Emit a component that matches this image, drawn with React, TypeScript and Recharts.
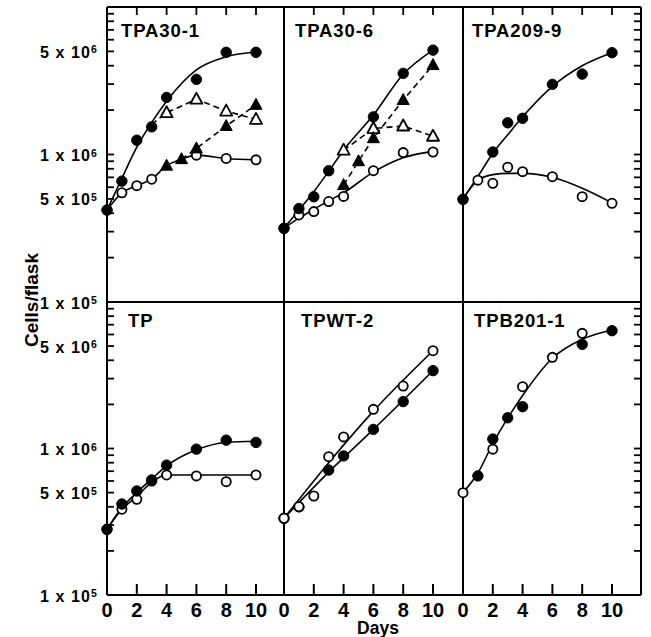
import React from "react";
import { LineChart, Line, XAxis, YAxis } from "recharts";

const FONT = '"Liberation Sans", Arial, Helvetica, sans-serif';

// ---- categories / ticks ----
const DAYS = [0, 1, 2, 3, 4, 5, 6, 8, 10];
const X_TICKS = [0, 2, 4, 6, 8, 10];
const Y_TICKS = [
  1e5, 2e5, 3e5, 4e5, 5e5, 6e5, 7e5, 8e5, 9e5,
  1e6, 2e6, 3e6, 4e6, 5e6, 6e6, 7e6, 8e6, 9e6, 1e7,
];
const Y_LABEL_VALUES = [5e6, 1e6, 5e5, 1e5];
const Y_LABEL_TEXT = ["5 x 10", "1 x 10", "5 x 10", "1 x 10"];
const Y_LABEL_EXP = ["6", "6", "5", "5"];
const Y_MIN = 1e5;
const Y_MAX = 1e7;

// ---- TPA30-1 ----
const A1_FC = [4.2e5, 6.6e5, 1.25e6, 1.54e6, 2.44e6, null, 3.23e6, 4.93e6, 4.93e6];
const A1_OC = [4.2e5, 5.5e5, 6.15e5, 6.8e5, null, null, 9.9e5, 9.4e5, 9.2e5];
const A1_FT = [null, null, null, null, 8.4e5, 9.3e5, 1.1e6, 1.56e6, 2.17e6];
const A1_OT = [null, null, null, null, 1.92e6, null, 2.37e6, 1.97e6, 1.73e6];
const A1_FC_FIT = [4.2e5, 6.9e5, 1.12e6, 1.65e6, 2.3e6, null, 3.75e6, 4.6e6, 4.95e6];
const A1_OC_FIT = [4.2e5, 5.5e5, 6.15e5, 6.8e5, 8.4e5, 9.3e5, 9.9e5, 9.4e5, 9.2e5];
const A1_FT_DASH = [null, null, null, null, null, 9.3e5, 1.1e6, 1.56e6, 2.17e6];
const A1_OT_DASH = [null, null, null, 1.6e6, 1.92e6, null, 2.37e6, 1.97e6, 1.73e6];

// ---- TPA30-6 ----
const A6_FC = [3.16e5, 4.3e5, 5.17e5, 7.76e5, null, null, 1.8e6, 3.55e6, 5.1e6];
const A6_OC = [3.16e5, 3.89e5, 4.1e5, 4.8e5, 5.2e5, null, 7.77e5, 1.03e6, 1.04e6];
const A6_FT = [null, null, null, null, 6.2e5, 9.0e5, 1.29e6, 2.34e6, 4.04e6];
const A6_OT = [null, null, null, null, 1.07e6, null, 1.5e6, 1.56e6, 1.33e6];
const A6_FC_FIT = [3.16e5, 4.2e5, 5.6e5, 7.7e5, 1.07e6, null, 1.85e6, 3.5e6, 5.1e6];
const A6_OC_FIT = [3.16e5, 3.7e5, 4.25e5, 4.85e5, 5.5e5, null, 7.6e5, 9.5e5, 1.05e6];
const A6_FT_DASH = [null, null, null, null, 6.2e5, 9.0e5, 1.29e6, 2.34e6, 4.04e6];
const A6_OT_DASH = [null, null, null, null, 1.07e6, null, 1.5e6, 1.56e6, 1.33e6];

// ---- TPA209-9 ----
const B9_FC = [4.97e5, null, 1.04e6, 1.64e6, 1.76e6, null, 2.99e6, 3.51e6, 4.9e6];
const B9_OC = [4.97e5, 6.7e5, 6.38e5, 8.2e5, 7.65e5, null, 7.07e5, 5.18e5, 4.67e5];
const B9_FC_FIT = [5.0e5, 7.1e5, 1.02e6, 1.36e6, 1.8e6, null, 2.9e6, 4.0e6, 4.9e6];
const B9_OC_FIT = [5.0e5, 6.7e5, 7.3e5, 7.45e5, 7.45e5, null, 7.0e5, 5.9e5, 4.7e5];

// ---- TP ----
const TP_FC = [2.81e5, 4.18e5, 5.13e5, 6.1e5, 7.7e5, null, 9.9e5, 1.14e6, 1.1e6];
const TP_OC = [2.81e5, 3.85e5, 4.5e5, 6.0e5, 6.6e5, null, 6.5e5, 5.94e5, 6.6e5];
const TP_FC_FIT = [2.81e5, 3.95e5, 5.0e5, 6.2e5, 7.6e5, null, 9.8e5, 1.1e6, 1.12e6];
const TP_OC_FIT = [2.81e5, 3.85e5, 4.7e5, 5.9e5, 6.6e5, null, 6.6e5, 6.6e5, 6.6e5];

// ---- TPWT-2 ----
const W2_FC = [3.34e5, 4.0e5, null, 7.13e5, 8.9e5, null, 1.35e6, 2.09e6, 3.4e6];
const W2_OC = [3.34e5, 4.0e5, 4.74e5, 8.8e5, 1.2e6, null, 1.85e6, 2.67e6, 4.65e6];
const W2_FC_FIT = [3.34e5, null, null, 6.9e5, null, null, 1.35e6, null, 3.4e6];
const W2_OC_FIT = [3.34e5, null, null, 8.0e5, null, null, 1.8e6, null, 4.65e6];

// ---- TPB201-1 ----
const B1_FC = [null, 6.5e5, 1.16e6, 1.62e6, 1.93e6, null, null, 5.14e6, 6.37e6];
const B1_OC = [4.99e5, null, 9.9e5, null, 2.64e6, null, 4.19e6, 6.11e6, null];
const B1_FIT = [5.0e5, 6.8e5, 1.08e6, 1.61e6, 2.3e6, null, 4.13e6, 5.56e6, 6.44e6];

// ---- layout ----
const COLS: [number, number][] = [[107, 284], [284, 463], [463, 641]];
const ROWS: [number, number][] = [[7, 302], [302, 595]];
const PX_PER_DAY = 14.9;
const Y_TICK_PX = 7;
const TOP_TICK_PX = 8;
const BOTTOM_TICK_PX = 11;

type Kind = "fit" | "dash" | "fc" | "oc" | "ft" | "ot";
type Series = { key: string; values: (number | null)[]; kind: Kind };
type PanelSpec = { title: string; col: number; row: number; tx: number; series: Series[] };

const PANELS: PanelSpec[] = [
  {
    title: "TPA30-1", col: 0, row: 0, tx: 121,
    series: [
      { key: "fcFit", values: A1_FC_FIT, kind: "fit" },
      { key: "ocFit", values: A1_OC_FIT, kind: "fit" },
      { key: "ftDash", values: A1_FT_DASH, kind: "dash" },
      { key: "otDash", values: A1_OT_DASH, kind: "dash" },
      { key: "ot", values: A1_OT, kind: "ot" },
      { key: "oc", values: A1_OC, kind: "oc" },
      { key: "ft", values: A1_FT, kind: "ft" },
      { key: "fc", values: A1_FC, kind: "fc" },
    ],
  },
  {
    title: "TPA30-6", col: 1, row: 0, tx: 295,
    series: [
      { key: "fcFit", values: A6_FC_FIT, kind: "fit" },
      { key: "ocFit", values: A6_OC_FIT, kind: "fit" },
      { key: "ftDash", values: A6_FT_DASH, kind: "dash" },
      { key: "otDash", values: A6_OT_DASH, kind: "dash" },
      { key: "oc", values: A6_OC, kind: "oc" },
      { key: "fc", values: A6_FC, kind: "fc" },
      { key: "ot", values: A6_OT, kind: "ot" },
      { key: "ft", values: A6_FT, kind: "ft" },
    ],
  },
  {
    title: "TPA209-9", col: 2, row: 0, tx: 472,
    series: [
      { key: "fcFit", values: B9_FC_FIT, kind: "fit" },
      { key: "ocFit", values: B9_OC_FIT, kind: "fit" },
      { key: "oc", values: B9_OC, kind: "oc" },
      { key: "fc", values: B9_FC, kind: "fc" },
    ],
  },
  {
    title: "TP", col: 0, row: 1, tx: 128,
    series: [
      { key: "fcFit", values: TP_FC_FIT, kind: "fit" },
      { key: "ocFit", values: TP_OC_FIT, kind: "fit" },
      { key: "oc", values: TP_OC, kind: "oc" },
      { key: "fc", values: TP_FC, kind: "fc" },
    ],
  },
  {
    title: "TPWT-2", col: 1, row: 1, tx: 301,
    series: [
      { key: "fcFit", values: W2_FC_FIT, kind: "fit" },
      { key: "ocFit", values: W2_OC_FIT, kind: "fit" },
      { key: "fc", values: W2_FC, kind: "fc" },
      { key: "oc", values: W2_OC, kind: "oc" },
    ],
  },
  {
    title: "TPB201-1", col: 2, row: 1, tx: 474,
    series: [
      { key: "fit", values: B1_FIT, kind: "fit" },
      { key: "oc", values: B1_OC, kind: "oc" },
      { key: "fc", values: B1_FC, kind: "fc" },
    ],
  },
];

const makeDot = (kind: Kind) => (p: any) => {
  const { cx, cy, index } = p;
  const k = `${kind}-${index}`;
  if (cx == null || cy == null || Number.isNaN(cy) || p.value == null) return <g key={k} />;
  if (kind === "fc") return <circle key={k} cx={cx} cy={cy} r={5.2} fill="#000" stroke="#000" strokeWidth={1} />;
  if (kind === "oc") return <circle key={k} cx={cx} cy={cy} r={4.6} fill="#fff" stroke="#000" strokeWidth={1.8} />;
  const pts = `${cx},${cy - 6.5} ${cx - 6},${cy + 4.5} ${cx + 6},${cy + 4.5}`;
  if (kind === "ft") return <polygon key={k} points={pts} fill="#000" stroke="#000" strokeWidth={1} />;
  return <polygon key={k} points={pts} fill="#fff" stroke="#000" strokeWidth={1.8} strokeLinejoin="round" />;
};

function LeftLabel(p: any) {
  const x = Number(p.x);
  const y = Number(p.y);
  const i = Y_LABEL_VALUES.indexOf(p.payload?.value);
  if (i < 0) return <g />;
  return (
    <text x={x - 9} y={y + 6.5} textAnchor="end" fontFamily={FONT} fontWeight="bold" fontSize={16} letterSpacing={1.1} fill="#000" stroke="none">
      {Y_LABEL_TEXT[i]}
      <tspan fontSize={10.5} dy={-4.5}>{Y_LABEL_EXP[i]}</tspan>
    </text>
  );
}

function BottomLabel(p: any) {
  const x = Number(p.x);
  const y = Number(p.y);
  return (
    <text x={x} y={y + 22} textAnchor="middle" fontFamily={FONT} fontWeight="bold" fontSize={20} fill="#000" stroke="none">
      {p.payload?.value}
    </text>
  );
}

const AXIS_LINE = { stroke: "#000", strokeWidth: 2 };

function Panel({ spec }: { spec: PanelSpec }) {
  const [x0, x1] = COLS[spec.col];
  const [y0, y1] = ROWS[spec.row];
  const w = x1 - x0;
  const h = y1 - y0;
  const leftW = spec.col === 0 ? 107 : 10;
  const rightW = 10;
  const topH = 10;
  const bottomH = 45;
  const xMax = w / PX_PER_DAY;
  const rows = DAYS.map((d, i) => {
    const r: any = { day: d };
    spec.series.forEach((s) => {
      r[s.key] = s.values[i];
    });
    return r;
  });
  const hasRight = spec.col === 2;
  const hasTop = spec.row === 0;
  const hasLeftTicks = spec.col === 0;
  const hasBottomTicks = spec.row === 1;

  return (
    <div style={{ position: "absolute", left: x0 - leftW, top: y0 - topH }}>
      <LineChart
        width={w + leftW + rightW}
        height={h + topH + bottomH}
        data={rows}
        margin={{ top: hasTop ? 0 : topH, right: hasRight ? 0 : rightW, bottom: 0, left: 0 }}
      >
        <XAxis
          xAxisId="b" dataKey="day" type="number" domain={[0, xMax]} height={bottomH}
          ticks={X_TICKS} interval={0} axisLine={AXIS_LINE} tickLine={false} tickSize={0} tickMargin={0}
          tick={hasBottomTicks ? (p: any) => <BottomLabel {...p} /> : false}
        />
        {hasTop && (
          <XAxis
            xAxisId="t" orientation="top" dataKey="day" type="number" domain={[0, xMax]} height={topH}
            axisLine={AXIS_LINE} tickLine={false} tick={false}
          />
        )}
        <YAxis
          yAxisId="l" type="number" scale="log" domain={[Y_MIN, Y_MAX]} width={leftW}
          ticks={Y_TICKS} interval={0} axisLine={AXIS_LINE} tickLine={false} tickSize={0} tickMargin={0}
          tick={hasLeftTicks ? (p: any) => <LeftLabel {...p} /> : false}
        />
        {hasRight && (
          <YAxis
            yAxisId="r" orientation="right" type="number" scale="log" domain={[Y_MIN, Y_MAX]} width={rightW}
            axisLine={AXIS_LINE} tickLine={false} tick={false}
          />
        )}
        {spec.series.map((s) => {
          if (s.kind === "fit")
            return (
              <Line key={s.key} xAxisId="b" yAxisId="l" dataKey={s.key} type="monotone" stroke="#000" strokeWidth={1.6}
                dot={false} activeDot={false} connectNulls isAnimationActive={false} />
            );
          if (s.kind === "dash")
            return (
              <Line key={s.key} xAxisId="b" yAxisId="l" dataKey={s.key} type="linear" stroke="#000" strokeWidth={1.6}
                strokeDasharray="6 4" dot={false} activeDot={false} connectNulls isAnimationActive={false} />
            );
          return (
            <Line key={s.key} xAxisId="b" yAxisId="l" dataKey={s.key} type="linear" stroke="none" strokeWidth={0}
              dot={makeDot(s.kind)} activeDot={false} isAnimationActive={false} />
          );
        })}
      </LineChart>
    </div>
  );
}

// inward axis tick marks (frame decoration) on the outer border of the grid
function FrameTicks() {
  const out: React.ReactNode[] = [];
  ROWS.forEach(([top, bottom], r) => {
    const pxPerDecade = (bottom - top) / Math.log10(Y_MAX / Y_MIN);
    Y_TICKS.forEach((v) => {
      const y = top + (Math.log10(Y_MAX) - Math.log10(v)) * pxPerDecade;
      const xl = COLS[0][0];
      const xr = COLS[COLS.length - 1][1];
      out.push(<line key={`l${r}-${v}`} x1={xl} x2={xl + Y_TICK_PX} y1={y} y2={y} stroke="#000" strokeWidth={1.8} />);
      out.push(<line key={`r${r}-${v}`} x1={xr - Y_TICK_PX} x2={xr} y1={y} y2={y} stroke="#000" strokeWidth={1.8} />);
    });
  });
  COLS.forEach(([left], c) => {
    X_TICKS.forEach((d) => {
      const x = left + d * PX_PER_DAY;
      const yt = ROWS[0][0];
      const yb = ROWS[ROWS.length - 1][1];
      out.push(<line key={`t${c}-${d}`} x1={x} x2={x} y1={yt} y2={yt + TOP_TICK_PX} stroke="#000" strokeWidth={1.8} />);
      out.push(<line key={`b${c}-${d}`} x1={x} x2={x} y1={yb - BOTTOM_TICK_PX} y2={yb} stroke="#000" strokeWidth={2} />);
    });
  });
  return <g>{out}</g>;
}

export default function App() {
  return (
    <div style={{ position: "absolute", left: 0, top: 0, width: 651, height: 637, background: "#fff" }}>
      {PANELS.map((p) => (
        <Panel key={p.title} spec={p} />
      ))}
      <svg width={651} height={637} style={{ position: "absolute", left: 0, top: 0, pointerEvents: "none" }}>
        <FrameTicks />
        {PANELS.map((p) => (
          <text key={p.title} x={p.tx} y={ROWS[p.row][0] + (p.row === 0 ? 29.5 : 24.5)} fontFamily={FONT}
            fontWeight="bold" fontSize={18.5} letterSpacing={0.9} fill="#000">
            {p.title}
          </text>
        ))}
        <text x={38} y={300} transform="rotate(-90 38 300)" textAnchor="middle" fontFamily={FONT} fontWeight="bold" fontSize={19} fill="#000">
          Cells/flask
        </text>
        <text x={378} y={634} textAnchor="middle" fontFamily={FONT} fontWeight="bold" fontSize={17.5} fill="#000">
          Days
        </text>
      </svg>
    </div>
  );
}
